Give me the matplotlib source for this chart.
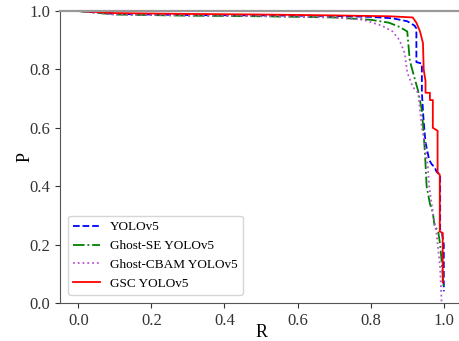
import matplotlib.pyplot as plt

plt.rcParams['font.family'] = ['Liberation Serif', 'DejaVu Serif']

# YOLOv5
r_yolo = [0.0, 0.1, 0.3, 0.5, 0.7, 0.8, 0.86, 0.9, 0.92, 0.925, 0.925, 0.94, 0.94, 0.945,
          0.95, 0.96, 0.967, 0.975, 0.98, 0.99, 0.99, 0.995, 1.0, 1.0]
p_yolo = [1.0, 0.99, 0.986, 0.985, 0.983, 0.98, 0.975, 0.965, 0.95, 0.94, 0.825, 0.82, 0.72, 0.62,
          0.55, 0.49, 0.475, 0.465, 0.45, 0.44, 0.25, 0.24, 0.2, 0.04]

# Ghost-SE YOLOv5
r_se = [0.0, 0.1, 0.3, 0.5, 0.7, 0.8, 0.85, 0.88, 0.9, 0.907, 0.92, 0.929, 0.94, 0.945,
        0.949, 0.953, 0.962, 0.97, 0.975, 0.984, 0.99, 0.997, 1.0]
p_se = [1.0, 0.988, 0.984, 0.982, 0.978, 0.97, 0.96, 0.945, 0.93, 0.83, 0.77, 0.73, 0.66, 0.58,
        0.5, 0.4, 0.34, 0.31, 0.26, 0.25, 0.2, 0.1, 0.05]

# Ghost-CBAM YOLOv5
r_cbam = [0.0, 0.1, 0.3, 0.5, 0.7, 0.78, 0.83, 0.86, 0.879, 0.893, 0.9, 0.915, 0.93, 0.94,
          0.948, 0.956, 0.96, 0.97, 0.98, 0.99, 0.994]
p_cbam = [1.0, 0.988, 0.985, 0.983, 0.978, 0.97, 0.95, 0.93, 0.9, 0.856, 0.79, 0.74, 0.72, 0.6,
          0.55, 0.47, 0.4, 0.31, 0.24, 0.12, 0.0]

# GSC YOLOv5
r_gsc = [0.0, 0.1, 0.3, 0.5, 0.7, 0.85, 0.915, 0.925, 0.935, 0.943, 0.945, 0.95, 0.95, 0.962,
         0.962, 0.97, 0.97, 0.983, 0.983, 0.989, 0.989, 0.997, 0.997]
p_gsc = [1.0, 0.993, 0.99, 0.988, 0.985, 0.982, 0.978, 0.96, 0.93, 0.89, 0.8, 0.76, 0.72, 0.72,
         0.695, 0.695, 0.6, 0.59, 0.445, 0.44, 0.245, 0.24, 0.07]

fig = plt.figure(figsize=(4.59, 3.41), dpi=100)
ax = fig.add_axes([0.1307, 0.1114, 0.876, 0.8563])

ax.plot(r_yolo, p_yolo, color='blue', linestyle='--', linewidth=1.3, label='YOLOv5')
ax.plot(r_se, p_se, color='green', linestyle='-.', linewidth=1.3, label='Ghost-SE YOLOv5')
ax.plot(r_cbam, p_cbam, color='mediumorchid', linestyle=':', linewidth=1.3, label='Ghost-CBAM YOLOv5')
ax.plot(r_gsc, p_gsc, color='red', linestyle='-', linewidth=1.3, label='GSC YOLOv5')

ax.set_xlim(-0.05, 1.05)
ax.set_ylim(0, 1.0)
ax.set_xticks([0.0, 0.2, 0.4, 0.6, 0.8, 1.0])
ax.set_yticks([0.0, 0.2, 0.4, 0.6, 0.8, 1.0])
ax.tick_params(labelsize=12, colors='#333333')
ax.spines['top'].set_color('#999999')
ax.spines['top'].set_linewidth(1.6)
ax.spines['left'].set_color('#555555')
ax.spines['bottom'].set_color('#555555')

ax.set_xlabel('R', fontsize=13)
ax.set_ylabel('P', fontsize=13)
ax.xaxis.set_label_coords(0.5, -0.072)
ax.yaxis.set_label_coords(-0.065, 0.5)

ax.legend(loc='lower left', fontsize=9.5, handlelength=2.0, borderaxespad=0.6)

plt.savefig('out.png', dpi=100)
